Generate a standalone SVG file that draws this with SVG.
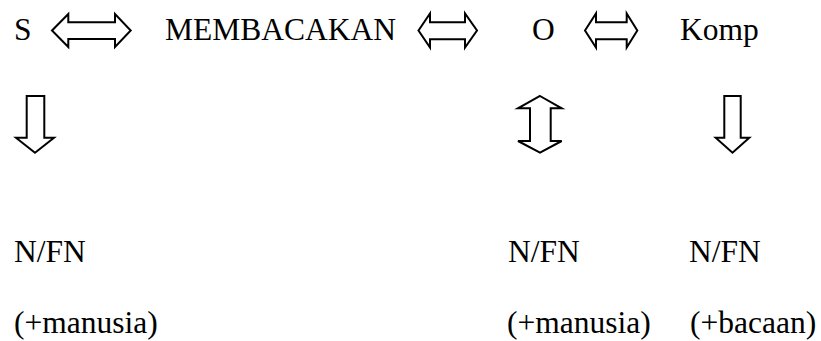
<svg xmlns="http://www.w3.org/2000/svg" width="821" height="341" viewBox="0 0 821 341">
<style>
.arr{fill:#fff;stroke:#000;stroke-width:2;stroke-linejoin:miter}
</style>
<rect width="821" height="341" fill="#fff"/>
<g id="node-S"><text x="14" y="40" font-family="Liberation Serif" font-size="31.5">S</text></g>
<g id="node-MEMBACAKAN"><text x="165" y="40" font-family="Liberation Serif" font-size="31.5">MEMBACAKAN</text></g>
<g id="node-O"><text x="532" y="40" font-family="Liberation Serif" font-size="31.5">O</text></g>
<g id="node-Komp"><text x="680" y="40" font-family="Liberation Serif" font-size="31.5">Komp</text></g>
<g id="node-S-NFN"><text x="14" y="262" font-family="Liberation Serif" font-size="31.5">N/FN</text><text x="14" y="333" font-family="Liberation Serif" font-size="31.5">(+manusia)</text></g>
<g id="node-O-NFN"><text x="508" y="262" font-family="Liberation Serif" font-size="31.5">N/FN</text><text x="507" y="333" font-family="Liberation Serif" font-size="31.5">(+manusia)</text></g>
<g id="node-Komp-NFN"><text x="689" y="262" font-family="Liberation Serif" font-size="31.5">N/FN</text><text x="690" y="333" font-family="Liberation Serif" font-size="31.5">(+bacaan)</text></g>
<g id="connectors">
<polygon class="arr" points="52,30.5 68.3,14 68.3,22.3 115,22.3 115,14 130.7,30.5 115,47 115,39 68.3,39 68.3,47"/>
<polygon class="arr" points="418.5,30.5 430,13.5 430,22.3 465,22.3 465,13.5 477,30.5 465,47.5 465,39.3 430,39.3 430,47.5"/>
<polygon class="arr" points="585,30.5 596,13.5 596,22.3 626.7,22.3 626.7,13.5 637.3,30.5 626.7,47.5 626.7,39.3 596,39.3 596,47.5"/>
<polygon class="arr" points="26.7,96 44.3,96 44.3,137.7 54,137.7 35,152.7 16,137.7 26.7,137.7"/>
<polygon class="arr" points="540,96 561.7,108.3 550.7,108.3 550.7,141 561.7,141 540,152.7 518,141 530,141 530,108.3 518,108.3"/>
<polygon class="arr" points="724.3,96 740.7,96 740.7,137.7 749.3,137.7 732.5,152.7 715.7,137.7 724.3,137.7"/>
</g>
</svg>
